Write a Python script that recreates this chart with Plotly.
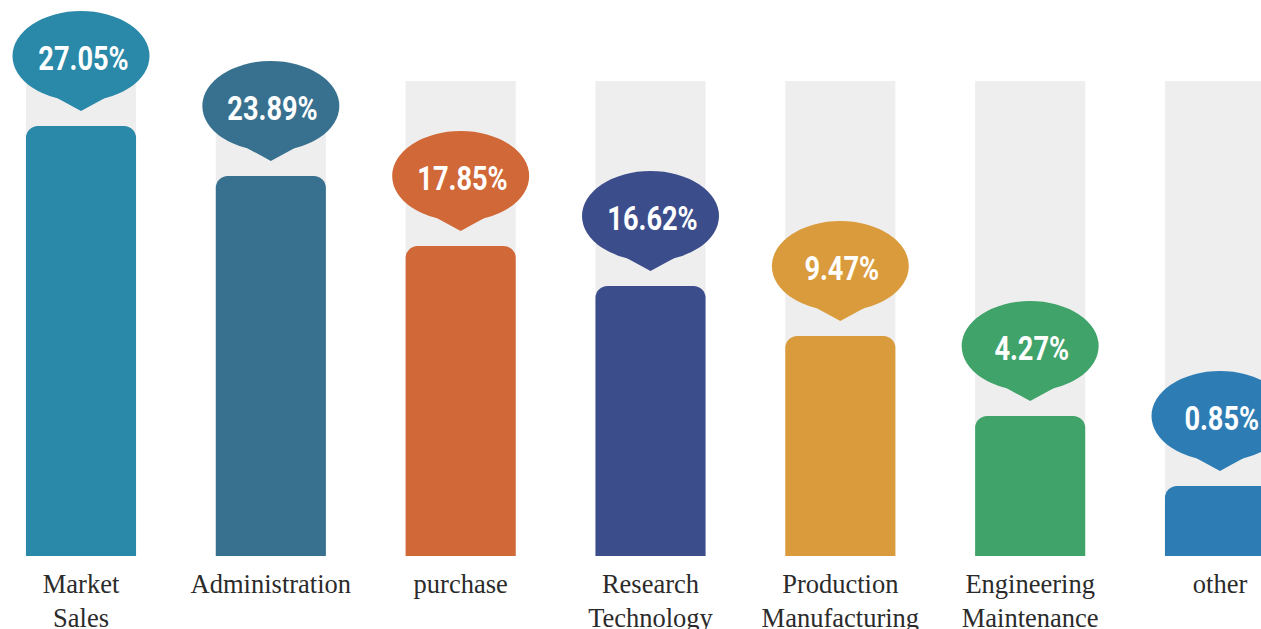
import plotly.graph_objects as go

categories = ["Market<br>Sales", "Administration", "purchase", "Research<br>Technology",
              "Production<br>Manufacturing", "Engineering<br>Maintenance", "other"]
percent_labels = ["27.05%", "23.89%", "17.85%", "16.62%", "9.47%", "4.27%", "0.85%"]
bar_heights = [430, 380, 310, 270, 220, 140, 70]
track_max = 475
colors = ["#2A88A8", "#38718F", "#D16838", "#3C4D8C", "#DA9B3C", "#40A36A", "#2D7DB4"]

x_idx = list(range(len(categories)))
bar_w = 0.58

fig = go.Figure()
fig.add_trace(go.Bar(x=x_idx, y=bar_heights, width=bar_w,
                     marker=dict(color=colors, line=dict(width=0), cornerradius=12),
                     customdata=percent_labels, hovertemplate="%{customdata}<extra></extra>",
                     showlegend=False))

shapes = []
annotations = []
for i in x_idx:
    shapes.append(dict(type="rect", xref="x", yref="y", x0=i - bar_w / 2, x1=i + bar_w / 2,
                       y0=0, y1=track_max, fillcolor="#EEEEEE", line=dict(width=0), layer="below"))
for i, (h, c, lab) in enumerate(zip(bar_heights, colors, percent_labels)):
    shapes.append(dict(type="circle", xref="x", yref="y",
                       xsizemode="pixel", ysizemode="pixel",
                       xanchor=i, yanchor=h,
                       x0=-68.5, x1=68.5, y0=25, y1=115,
                       fillcolor=c, line=dict(width=0), layer="above"))
    shapes.append(dict(type="path", xref="x", yref="y",
                       xsizemode="pixel", ysizemode="pixel",
                       xanchor=i, yanchor=h,
                       path="M -50,42 Q -22,27 0,15 Q 22,27 50,42 Z",
                       fillcolor=c, line=dict(width=0), layer="above"))
    annotations.append(dict(x=i, y=h, xref="x", yref="y", text=f"<b>{lab}</b>",
                            showarrow=False, xshift=2, yshift=68,
                            font=dict(family="Roboto, DejaVu Sans", size=34, color="white")))

fig.update_layout(
    width=1261, height=629,
    margin=dict(l=0, r=0, t=0, b=73, autoexpand=False),
    paper_bgcolor="white", plot_bgcolor="white",
    barcornerradius=12,
    shapes=shapes, annotations=annotations,
    xaxis=dict(range=[-0.4267, 6.216], tickvals=x_idx, ticktext=categories,
               showgrid=False, zeroline=False, showline=False, ticks="",
               automargin=False, ticklabelstandoff=9,
               tickfont=dict(family="Liberation Serif, Times New Roman, serif", size=26.5, color="#2b2b2b")),
    yaxis=dict(range=[0, 556], visible=False, showgrid=False, zeroline=False, automargin=False),
)

post = """
document.body.style.margin='0';
document.body.style.overflow='hidden';
document.querySelectorAll('.annotation-text').forEach(function(t){
  t.style.transformBox='fill-box';
  t.style.transformOrigin='center';
  t.style.transform='scaleX(0.8)';
});
"""
fig.write_html("out.html", post_script=post, config={"displayModeBar": False})
